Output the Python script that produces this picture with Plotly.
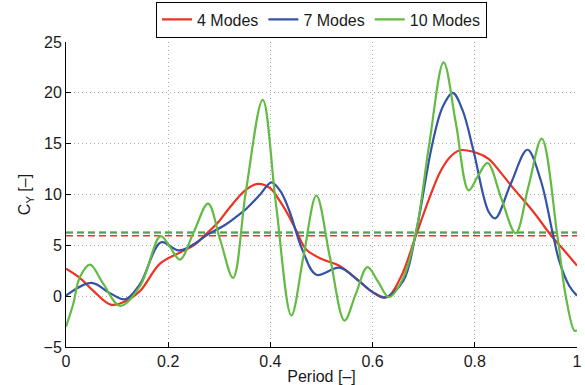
import plotly.graph_objects as go

# ---- data ----
red_x = [0.0, 0.027, 0.053, 0.089, 0.12, 0.145, 0.184, 0.223, 0.25, 0.274, 0.30, 0.32, 0.353, 0.376,
         0.40, 0.418, 0.437, 0.451, 0.47, 0.503, 0.535, 0.573, 0.60, 0.628, 0.655, 0.685, 0.71, 0.731,
         0.75, 0.771, 0.803, 0.827, 0.85, 0.874, 0.913, 0.952, 0.975, 1.0]
red_y = [2.7, 1.8, 0.55, -0.85, -0.4, 0.5, 3.2, 4.3, 5.0, 6.1, 7.4, 8.7, 10.5, 11.05,
         10.6, 9.4, 7.8, 6.4, 4.6, 3.6, 3.0, 1.5, 0.4, -0.1, 1.85, 6.0, 9.5, 12.1,
         13.6, 14.35, 14.1, 13.5, 12.2, 10.7, 8.4, 5.8, 4.5, 3.0]

blue_x = [0.0, 0.05, 0.086, 0.116, 0.145, 0.186, 0.22, 0.25, 0.274, 0.314, 0.343, 0.353, 0.38, 0.402,
          0.42, 0.437, 0.463, 0.49, 0.535, 0.573, 0.60, 0.623, 0.66, 0.685, 0.717, 0.737, 0.757, 0.776,
          0.797, 0.827, 0.84, 0.87, 0.903, 0.929, 0.952, 0.965, 0.985, 1.0]
blue_y = [0.05, 1.3, 0.3, -0.3, 1.2, 5.3, 4.5, 5.1, 5.95, 7.1, 8.2, 8.6, 10.0, 11.2,
          10.3, 8.4, 4.5, 2.1, 2.8, 1.5, 0.4, -0.15, 1.5, 6.3, 15.0, 18.6, 20.0, 18.3,
          14.4, 8.3, 7.65, 11.0, 14.4, 11.4, 6.3, 3.5, 1.0, 0.05]

green_x = [0.0, 0.014, 0.027, 0.047, 0.073, 0.106, 0.145, 0.185, 0.204, 0.223, 0.25, 0.278, 0.302,
           0.327, 0.352, 0.385, 0.411, 0.441, 0.465, 0.49, 0.517, 0.545, 0.567, 0.59, 0.611, 0.632,
           0.66, 0.685, 0.711, 0.739, 0.763, 0.788, 0.806, 0.825, 0.852, 0.88, 0.905, 0.931, 0.962,
           0.978, 0.995, 1.0]
green_y = [-3.0, -0.8, 1.85, 3.1, 1.2, -0.95, 1.0, 5.9, 4.8, 3.6, 6.3, 9.1, 5.5,
           1.8, 10.3, 19.3, 9.0, -1.9, 4.0, 9.9, 3.7, -2.4, 0.2, 2.85, 1.4, -0.1,
           1.8, 6.3, 15.0, 23.0, 17.0, 10.4, 11.8, 13.1, 9.6, 6.2, 10.8, 15.5, 5.8,
           0.0, -3.4, -3.35]

series_names = ["4 Modes", "7 Modes", "10 Modes"]
mean_values = [5.95, 6.25, 6.3]   # dashed mean lines (red, blue, green)

x_ticks = [0, 0.2, 0.4, 0.6, 0.8, 1]
x_tick_labels = ["0", "0.2", "0.4", "0.6", "0.8", "1"]
y_ticks = [-5, 0, 5, 10, 15, 20, 25]
y_tick_labels = ["−5", "0", "5", "10", "15", "20", "25"]

colors = ["#ec3324", "#3553a6", "#63bb43"]

fig = go.Figure()

# mean lines (dashed)
for name, m, c in zip(series_names, mean_values, colors):
    fig.add_trace(go.Scatter(x=[0, 1], y=[m, m], mode="lines",
                             line=dict(color=c, width=1.5, dash="7px,4px"),
                             showlegend=False, hoverinfo="skip"))

for name, xs, ys, c in zip(series_names, [red_x, blue_x, green_x], [red_y, blue_y, green_y], colors):
    fig.add_trace(go.Scatter(x=xs, y=ys, mode="lines", name=name,
                             line=dict(color=c, width=2.2, shape="spline", smoothing=1.0)))

font_family = "Liberation Sans, Arial, sans-serif"

axis_common = dict(showline=True, linecolor="black", linewidth=1, ticks="inside", ticklen=5,
                   tickcolor="black", showgrid=True, gridcolor="#ababab", griddash="1px,3px",
                   gridwidth=1, zeroline=False, mirror=False, automargin=False)

fig.update_layout(
    width=585, height=385,
    margin=dict(l=66, r=8, t=42, b=38),
    paper_bgcolor="white", plot_bgcolor="white",
    font=dict(family=font_family, size=16, color="#1a1a1a"),
    showlegend=True,
    legend=dict(orientation="h", x=0.5, xanchor="center", xref="paper",
                y=1 - 19.5 / 385, yanchor="middle", yref="container",
                bordercolor="black", borderwidth=1, bgcolor="white",
                font=dict(size=16), itemwidth=30, tracegroupgap=0),
    xaxis=dict(range=[0, 1], tickvals=x_ticks, ticktext=x_tick_labels,
               title=dict(text="Period [–]", standoff=2, font=dict(size=16)), **axis_common),
    yaxis=dict(range=[-5, 25], tickvals=y_ticks, ticktext=y_tick_labels,
               title=dict(text="C<sub>Y</sub> [–]", standoff=8, font=dict(size=16)), **axis_common),
)

fig.write_html("out.html", config={"displayModeBar": False},
               post_script="document.body.style.margin='0';document.body.style.overflow='hidden';")
